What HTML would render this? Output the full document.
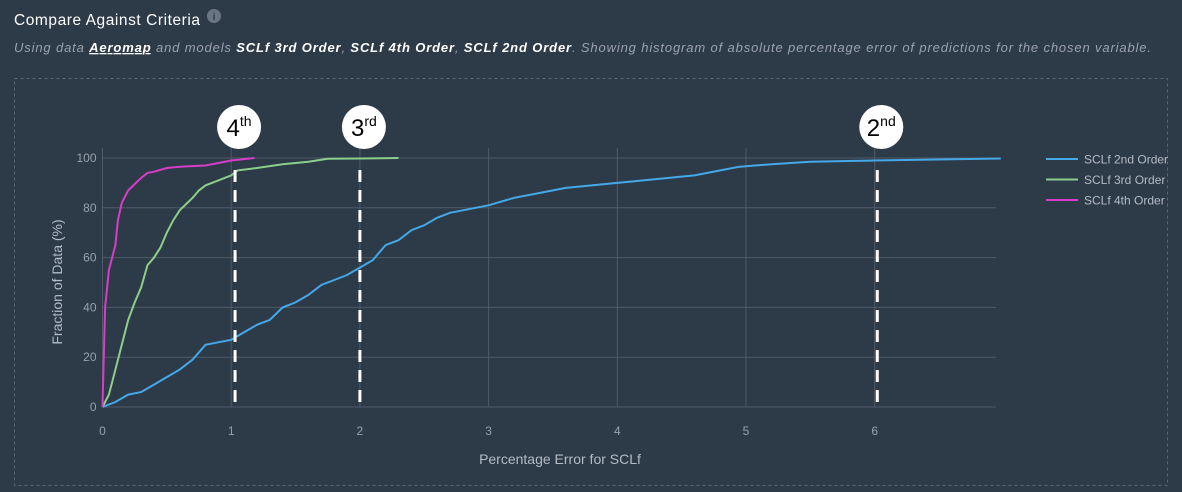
<!DOCTYPE html>
<html><head><meta charset="utf-8"><style>
html,body{margin:0;padding:0;background:#2d3a48;}
svg{display:block;font-family:"Liberation Sans",sans-serif;}
</style></head><body>
<svg id="chart" width="1182" height="492" xmlns="http://www.w3.org/2000/svg">
<rect x="0" y="0" width="1182" height="492" fill="#2d3a48"/>
<text x="14" y="25" fill="#ffffff" font-size="15.5" textLength="186">Compare Against Criteria</text>
<circle cx="214" cy="16" r="7" fill="#6b7682"/>
<text x="214" y="20" fill="#2d3a48" font-size="10" font-weight="bold" text-anchor="middle">i</text>
<text x="14" y="52" font-size="13" font-style="italic" fill="#9aa3ad" textLength="1137">Using data <tspan fill="#fff" font-weight="bold" text-decoration="underline">Aeromap</tspan> and models <tspan fill="#fff" font-weight="bold">SCLf 3rd Order</tspan>, <tspan fill="#fff" font-weight="bold">SCLf 4th Order</tspan>, <tspan fill="#fff" font-weight="bold">SCLf 2nd Order</tspan>. Showing histogram of absolute percentage error of predictions for the chosen variable.</text>
<rect x="14.5" y="78.5" width="1153" height="407" fill="none" stroke="#5a6672" stroke-dasharray="3,3"/>
<g id="grid"></g>
<g id="series"></g>
<g id="markers"></g>
<text x="560" y="464" fill="#b4bcc4" font-size="14" text-anchor="middle">Percentage Error for SCLf</text>
<text transform="translate(62,282) rotate(-90)" fill="#b4bcc4" font-size="14" text-anchor="middle">Fraction of Data (%)</text>
<g id="legend"></g>
</svg>
<script>
const xTicks=[0,1,2,3,4,5,6];
const yTicks=[0,20,40,60,80,100];
const seriesNames=["SCLf 2nd Order","SCLf 3rd Order","SCLf 4th Order"];
const seriesColors=["#45a8e8","#8ccf8a","#d63dc8"];
const x2nd=[0,0.1,0.2,0.3,0.4,0.5,0.6,0.7,0.8,0.9,1.0,1.1,1.2,1.3,1.4,1.5,1.6,1.7,1.8,1.9,2.0,2.1,2.2,2.3,2.4,2.5,2.6,2.7,2.8,2.9,3.0,3.2,3.4,3.6,3.8,4.0,4.2,4.4,4.6,4.8,4.95,5.2,5.5,6.0,6.98];
const y2nd=[0,2,5,6,9,12,15,19,25,26,27,30,33,35,40,42,45,49,51,53,56,59,65,67,71,73,76,78,79,80,81,84,86,88,89,90,91,92,93,95,96.5,97.5,98.5,99,99.8];
const x3rd=[0,0.05,0.1,0.15,0.2,0.25,0.3,0.35,0.4,0.45,0.5,0.55,0.6,0.7,0.75,0.8,0.9,1.0,1.05,1.2,1.4,1.6,1.75,2.0,2.3];
const y3rd=[0,5,15,25,35,42,48,57,60,64,70,75,79,84,87,89,91,93,95,96,97.5,98.5,99.7,99.8,100];
const x4th=[0,0.02,0.05,0.1,0.12,0.15,0.2,0.3,0.35,0.4,0.5,0.6,0.8,0.9,1.0,1.18];
const y4th=[0,40,55,65,75,82,87,92,94,94.5,96,96.5,97,98,99,100];
const criteriaValues=[1.03,2.0,6.02];
const criteriaLabels=[["4","th"],["3","rd"],["2","nd"]];

const NS="http://www.w3.org/2000/svg";
const X0=102.5,XS=128.7,XR=996,Y0=407,YS=2.49;
const sx=v=>X0+v*XS, sy=v=>Y0-v*YS;
function mk(tag,attrs,parent){const e=document.createElementNS(NS,tag);for(const k in attrs)e.setAttribute(k,attrs[k]);parent.appendChild(e);return e;}
const grid=document.getElementById('grid');
yTicks.forEach(t=>{
  const l=mk('line',{x1:X0,x2:XR,y1:sy(t),y2:sy(t),stroke:'#4f5b67','stroke-width':1},grid);
  
  
  const tx=mk('text',{x:X0-6,y:sy(t)+4,fill:'#98a2ac','font-size':12,'text-anchor':'end'},grid);
  tx.textContent=t;
  
  
});
xTicks.forEach(t=>{
  const l=mk('line',{x1:sx(t),x2:sx(t),y1:sy(100)-10,y2:Y0,stroke:'#4f5b67','stroke-width':1},grid);
  
  
  const tx=mk('text',{x:sx(t),y:435,fill:'#98a2ac','font-size':12,'text-anchor':'middle'},grid);
  tx.textContent=t;
  
  
});
const ser=document.getElementById('series');
[[x2nd,y2nd],[x3rd,y3rd],[x4th,y4th]].forEach((s,i)=>{
  const d=s[0].map((v,j)=>(j?'L':'M')+sx(v).toFixed(1)+','+sy(s[1][j]).toFixed(1)).join('');
  const p=mk('path',{d:d,fill:'none',stroke:seriesColors[i],'stroke-width':2},ser);
  
  
});
const mkr=document.getElementById('markers');
criteriaValues.forEach((v,i)=>{
  const l=mk('line',{x1:sx(v),x2:sx(v),y1:170,y2:403,stroke:'#ffffff','stroke-width':3,'stroke-dasharray':'12,8'},mkr);
  
  
  const c=mk('circle',{cx:sx(v)+4,cy:127,r:22,fill:'#ffffff'},mkr);
  
  
  const t=mk('text',{x:sx(v)+4,y:136,fill:'#000','font-size':24,'text-anchor':'middle'},mkr);
  
  
  t.textContent=criteriaLabels[i][0];
  const sp=mk('tspan',{'font-size':14,dy:-10},t);
  sp.textContent=criteriaLabels[i][1];
});
const lg=document.getElementById('legend');
seriesNames.forEach((n,i)=>{
  const y=159+i*20.5;
  const l=mk('line',{x1:1046,x2:1078,y1:y,y2:y,stroke:seriesColors[i],'stroke-width':2},lg);
  
  
  const t=mk('text',{x:1084,y:y+4.5,fill:'#b4bcc4','font-size':12},lg);
  t.textContent=n;
  
  
});
</script>
</body></html>
